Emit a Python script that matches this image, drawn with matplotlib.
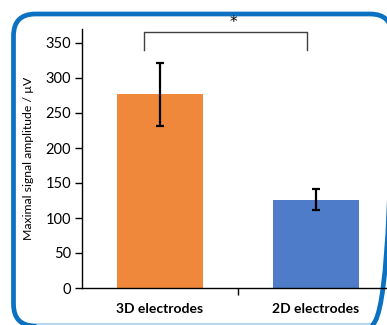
import matplotlib
matplotlib.use("Agg")
import matplotlib.pyplot as plt
from matplotlib.patches import FancyBboxPatch

# -------------------------------
# Data
# -------------------------------
categories = ["3D electrodes", "2D electrodes"]
amplitude = [277, 126]
amplitude_err = [45, 15]

BAR_COLORS = ["#F0883B", "#4E7CC9"]
FRAME_COLOR = "#0B71C2"
FONT = ["Lato", "DejaVu Sans"]

plt.rcParams["font.family"] = FONT

W, H = 387, 325
fig = plt.figure(figsize=(W / 100, H / 100), dpi=100)

# frame layer in pixel coordinates
bg = fig.add_axes([0, 0, 1, 1])
bg.set_xlim(0, W)
bg.set_ylim(H, 0)
bg.axis("off")
frame = FancyBboxPatch((13.5, 14), 392 - 13.5, 326 - 14,
                       boxstyle="round,pad=0,rounding_size=22",
                       fill=False, edgecolor=FRAME_COLOR, linewidth=3.4)
bg.add_patch(frame)
bg.plot([36, 370], [324, 324], color="#B7D7F1", lw=2.2, solid_capstyle="butt")

# axes: y-axis at x=82px, y=0 at 288px, top at 29px
ax = fig.add_axes([82 / W, (H - 288) / H, (W - 82) / W, (288 - 29) / H])
ax.patch.set_alpha(0)

x = [0, 1]
ax.bar(x, amplitude, width=0.55, color=BAR_COLORS, zorder=2)
ax.errorbar(x, amplitude, yerr=amplitude_err, fmt="none", ecolor="black",
            elinewidth=1.6, capsize=3, capthick=1.6, zorder=3)

ax.set_xlim(-0.5, -0.5 + (W - 82) / 156)
ax.set_ylim(0, 370)
ax.set_yticks(range(0, 351, 50))
ax.set_xticks(x)
ax.set_xticklabels(categories, fontsize=10, fontweight="bold")
ax.set_xticks([0.5], minor=True)
ax.tick_params(axis="x", which="major", length=0, pad=11)
ax.tick_params(axis="x", which="minor", length=5, width=1)
ax.tick_params(axis="y", length=5, width=1, labelsize=10.5, pad=3)

for side in ["top", "right"]:
    ax.spines[side].set_visible(False)
for side in ["left", "bottom"]:
    ax.spines[side].set_linewidth(1)

ax.set_ylabel("Maximal signal amplitude / \u00b5V", fontsize=8.8, labelpad=8)

# significance bracket
ax.plot([-0.1, -0.1, 0.945, 0.945], [340, 366, 366, 340], color="#404040",
        lw=1, clip_on=False)
ax.text(0.468, 380, "*", ha="center", va="center", fontsize=11,
        family="DejaVu Sans", clip_on=False)

fig.savefig("out.png", dpi=100)
